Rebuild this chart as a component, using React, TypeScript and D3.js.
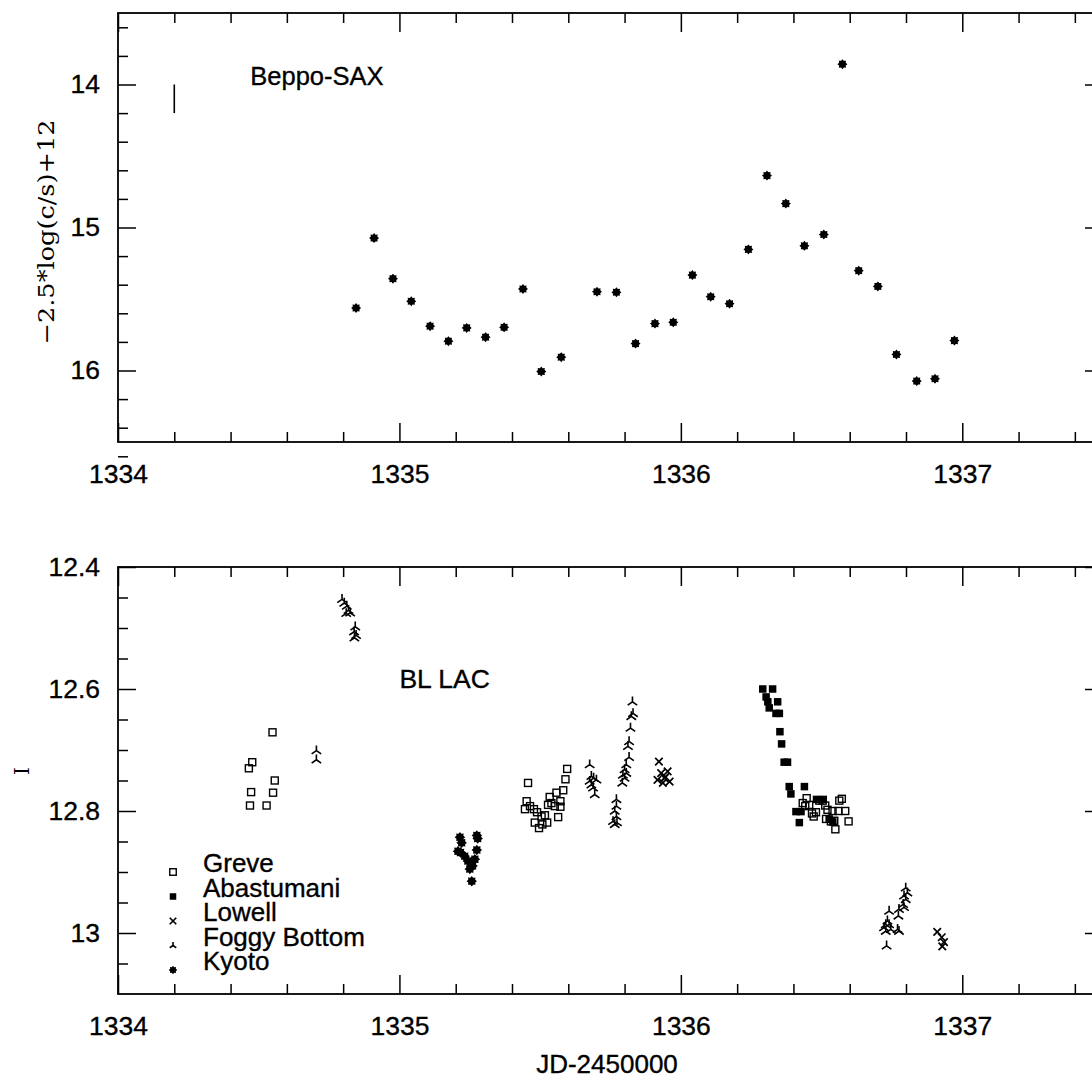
import React, { useEffect, useRef } from 'react';
import * as d3 from 'd3';

// Beppo-SAX light curve (top panel)
const saxT = [1334.846, 1334.910, 1334.977, 1335.042, 1335.109, 1335.174, 1335.239, 1335.306, 1335.372, 1335.439, 1335.504,
  1335.575, 1335.702, 1335.771, 1335.839, 1335.908, 1335.973, 1336.041, 1336.106, 1336.173, 1336.240, 1336.306,
  1336.373, 1336.439, 1336.508, 1336.574, 1336.632, 1336.700, 1336.766, 1336.838, 1336.903, 1336.972];
const saxM = [15.563, 15.074, 15.358, 15.516, 15.690, 15.795, 15.702, 15.767, 15.698, 15.430, 16.007,
  15.907, 15.449, 15.453, 15.812, 15.672, 15.663, 15.333, 15.484, 15.533, 15.153, 14.637,
  14.833, 15.128, 15.049, 13.858, 15.302, 15.412, 15.888, 16.074, 16.058, 15.791];

// optical I band, one pair of arrays per observatory
const greveT = [1334.465, 1334.477, 1334.549, 1334.557, 1334.473, 1334.551, 1334.469, 1334.528,
  1335.457, 1335.452, 1335.446, 1335.464, 1335.478, 1335.489, 1335.481, 1335.496, 1335.505, 1335.517, 1335.525, 1335.508,
  1335.534, 1335.540, 1335.552, 1335.558, 1335.572, 1335.572, 1335.582, 1335.564, 1335.590, 1335.596, 1335.528,
  1336.447, 1336.433, 1336.442, 1336.456, 1336.466, 1336.480, 1336.492, 1336.504, 1336.513, 1336.521, 1336.516,
  1336.533, 1336.549, 1336.545, 1336.563, 1336.572, 1336.539, 1336.560, 1336.584, 1336.596, 1336.472];
const greveI = [12.730, 12.720, 12.671, 12.750, 12.769, 12.770, 12.791, 12.791,
  12.754, 12.784, 12.797, 12.792, 12.797, 12.802, 12.819, 12.828, 12.809, 12.807, 12.819, 12.822,
  12.777, 12.787, 12.792, 12.770, 12.784, 12.793, 12.766, 12.810, 12.748, 12.731, 12.790,
  12.779, 12.787, 12.792, 12.790, 12.804, 12.802, 12.783, 12.783, 12.791, 12.798, 12.813,
  12.817, 12.830, 12.816, 12.783, 12.780, 12.800, 12.800, 12.800, 12.817, 12.809];

const abasT = [1336.291, 1336.326, 1336.303, 1336.309, 1336.344, 1336.314, 1336.338, 1336.350, 1336.352, 1336.358,
  1336.367, 1336.379, 1336.385, 1336.391, 1336.439, 1336.409, 1336.427, 1336.421, 1336.482, 1336.506, 1336.527, 1336.540];
const abasI = [12.600, 12.600, 12.613, 12.621, 12.621, 12.631, 12.640, 12.640, 12.670, 12.690,
  12.720, 12.720, 12.760, 12.772, 12.760, 12.801, 12.801, 12.819, 12.781, 12.781, 12.813, 12.818];

const lowellT = [1335.922, 1335.930, 1335.942, 1335.953, 1335.936, 1335.917, 1335.960, 1335.945,
  1336.911, 1336.927, 1336.935, 1336.929];
const lowellI = [12.719, 12.738, 12.746, 12.735, 12.754, 12.749, 12.752, 12.744,
  12.998, 13.007, 13.015, 13.022];

const foggyT = [1334.705, 1334.705,
  1334.796, 1334.804, 1334.813, 1334.819, 1334.811, 1334.825, 1334.843, 1334.839, 1334.846, 1334.840,
  1335.676, 1335.682, 1335.690, 1335.676, 1335.700, 1335.688, 1335.694, 1335.682,
  1335.771, 1335.771, 1335.765, 1335.771, 1335.759, 1335.773, 1335.765,
  1335.828, 1335.830, 1335.824, 1335.821, 1335.816, 1335.812, 1335.816, 1335.806, 1335.800, 1335.794, 1335.800, 1335.792, 1335.806,
  1336.799, 1336.805, 1336.793, 1336.799, 1336.790, 1336.775, 1336.793, 1336.773, 1336.740, 1336.734, 1336.728, 1336.740,
  1336.722, 1336.746, 1336.728, 1336.770, 1336.775, 1336.731];
const foggyI = [12.701, 12.716,
  12.453, 12.459, 12.464, 12.471, 12.476, 12.475, 12.498, 12.506, 12.512, 12.516,
  12.724, 12.743, 12.746, 12.751, 12.749, 12.762, 12.773, 12.757,
  12.781, 12.792, 12.800, 12.809, 12.817, 12.819, 12.822,
  12.621, 12.640, 12.645, 12.664, 12.686, 12.694, 12.712, 12.724, 12.732, 12.741, 12.746, 12.754, 12.738,
  12.926, 12.934, 12.939, 12.945, 12.953, 12.961, 12.958, 12.972, 12.964, 12.980, 12.986, 12.986,
  12.991, 12.994, 12.997, 12.994, 12.997, 13.021];

const kyotoT = [1335.215, 1335.221, 1335.208, 1335.217, 1335.232, 1335.243, 1335.257, 1335.260, 1335.250, 1335.268,
  1335.275, 1335.278, 1335.275, 1335.257];
const kyotoI = [12.843, 12.852, 12.866, 12.868, 12.874, 12.882, 12.884, 12.890, 12.895, 12.879,
  12.840, 12.845, 12.864, 12.915];

// axes
const xMajor = [1334, 1335, 1336, 1337];
const saxMajor = [14, 15, 16];
const iMajor = [12.4, 12.6, 12.8, 13];
const legendNames = ['Greve', 'Abastumani', 'Lowell', 'Foggy Bottom', 'Kyoto'];
const legendKinds = ['open', 'filled', 'cross', 'foggy', 'star'];

const SANS = '"Liberation Sans", Arial, Helvetica, sans-serif';
const SERIF = '"DejaVu Serif", "Liberation Serif", serif';

// 8 point star like the plotting package's filled asterisk
function starPath(ro: number, ri: number) {
  const pts: string[] = [];
  for (let i = 0; i < 16; i++) {
    const r = i % 2 === 0 ? ro : ri;
    const a = (Math.PI / 8) * i - Math.PI / 2;
    pts.push((r * Math.cos(a)).toFixed(2) + ',' + (r * Math.sin(a)).toFixed(2));
  }
  return 'M' + pts.join('L') + 'Z';
}

function drawSymbol(g: any, kind: string, cx: number, cy: number, s: number) {
  if (kind === 'open') {
    g.append('rect').attr('x', cx - s / 2).attr('y', cy - s / 2).attr('width', s).attr('height', s)
      .attr('fill', 'none').attr('stroke', '#000').attr('stroke-width', 1.4);
  } else if (kind === 'filled') {
    g.append('rect').attr('x', cx - s / 2).attr('y', cy - s / 2).attr('width', s).attr('height', s)
      .attr('fill', '#000');
  } else if (kind === 'cross') {
    const h = s / 2;
    g.append('path').attr('d', `M${cx - h},${cy - h}L${cx + h},${cy + h}M${cx - h},${cy + h}L${cx + h},${cy - h}`)
      .attr('stroke', '#000').attr('stroke-width', 1.7).attr('fill', 'none');
  } else if (kind === 'foggy') {
    const h = s / 2;
    g.append('path').attr('d', `M${cx},${cy}L${cx},${cy - h * 1.1}M${cx},${cy}L${cx - h},${cy + h * 0.7}M${cx},${cy}L${cx + h},${cy + h * 0.7}`)
      .attr('stroke', '#000').attr('stroke-width', 1.6).attr('fill', 'none');
  } else {
    g.append('path').attr('d', starPath(s / 2, s / 2 * 0.72)).attr('transform', `translate(${cx},${cy})`)
      .attr('fill', '#000');
  }
}

// printed-looking text: a thin outline makes the glyphs a little heavier
function heavy(sel: any) {
  return sel.attr('fill', '#000').attr('stroke', '#000').attr('stroke-width', 0.35);
}

export default function App() {
  const ref = useRef<SVGSVGElement>(null);

  useEffect(() => {
    const width = 1092, height = 1080;
    const svg = d3.select(ref.current);
    svg.selectAll('*').remove();
    svg.append('rect').attr('width', width).attr('height', height).attr('fill', '#fff');

    const x = d3.scaleLinear().domain([1334, 1337.5]).range([118, 1103]);
    const ySax = d3.scaleLinear().domain([13.5, 16.5]).range([13, 442]);
    const yI = d3.scaleLinear().domain([12.4, 13.1]).range([567, 994]);

    const xMinor = d3.range(1, 18).map(i => 1334 + i * 0.2).filter(v => Math.abs(v - Math.round(v)) > 0.01);

    // frame with inward ticks on all four sides
    function panel(y: any, yMaj: number[], yMin: number[], yFmt: (d: any) => string) {
      const [x0, x1] = x.range();
      const [yTop, yBot] = [y.range()[0], y.range()[1]];
      const g = svg.append('g');

      const put = (axis: any, tx: number, ty: number, labels: boolean) => {
        const a = g.append('g').attr('transform', `translate(${tx},${ty})`).call(axis);
        a.select('.domain').remove();
        a.selectAll('line').attr('stroke', '#000').attr('stroke-width', 1.5);
        heavy(a.selectAll('text').attr('font-family', SANS).attr('font-size', 26.5));
        if (!labels) a.selectAll('text').remove();
        return a;
      };

      put(d3.axisBottom(x).tickValues(xMajor).tickSize(-19).tickPadding(22).tickFormat(d3.format('d')), 0, yBot, true);
      put(d3.axisBottom(x).tickValues(xMinor).tickSize(-10).tickFormat(() => ''), 0, yBot, false);
      put(d3.axisTop(x).tickValues(xMajor).tickSize(-19), 0, yTop, false);
      put(d3.axisTop(x).tickValues(xMinor).tickSize(-10), 0, yTop, false);
      put(d3.axisLeft(y).tickValues(yMaj).tickSize(-18).tickPadding(18).tickFormat(yFmt), x0, 0, true);
      put(d3.axisLeft(y).tickValues(yMin).tickSize(-10), x0, 0, false);
      put(d3.axisRight(y).tickValues(yMaj).tickSize(-18), x1, 0, false);
      put(d3.axisRight(y).tickValues(yMin).tickSize(-10), x1, 0, false);

      g.append('rect').attr('x', x0).attr('y', yTop).attr('width', x1 - x0).attr('height', yBot - yTop)
        .attr('fill', 'none').attr('stroke', '#000').attr('stroke-width', 1.8);
      return g;
    }

    /* top panel: Beppo-SAX */
    const saxMinor = d3.range(0, 16).map(i => 13.6 + i * 0.2).filter(v => Math.abs(v - Math.round(v)) > 0.01);
    panel(ySax, saxMajor, saxMinor, d => String(d));

    const gs = svg.append('g');
    saxT.forEach((t, i) => drawSymbol(gs, 'star', x(t), ySax(saxM[i]), 10));
    // typical error bar
    gs.append('line').attr('x1', x(1334.2)).attr('x2', x(1334.2)).attr('y1', ySax(14.0)).attr('y2', ySax(14.2))
      .attr('stroke', '#000').attr('stroke-width', 1.6);
    heavy(gs.append('text').attr('x', x(1334.47)).attr('y', ySax(14.0)).attr('font-family', SANS).attr('font-size', 25.5)
      .text('Beppo-SAX'));
    gs.append('text').attr('transform', `translate(54,232) rotate(-90)`).attr('text-anchor', 'middle')
      .attr('font-family', SERIF).attr('font-size', 22).attr('textLength', 225).attr('lengthAdjust', 'spacingAndGlyphs')
      .text('\u22122.5*log(c/s)+12');

    /* bottom panel: optical I */
    const iMinor = d3.range(1, 14).map(i => 12.4 + i * 0.05).filter(v => Math.abs(v * 5 - Math.round(v * 5)) > 0.01);
    panel(yI, iMajor, iMinor, d => d3.format('~g')(d));

    const gb = svg.append('g');
    greveT.forEach((t, i) => drawSymbol(gb, 'open', x(t), yI(greveI[i]), 7));
    abasT.forEach((t, i) => drawSymbol(gb, 'filled', x(t), yI(abasI[i]), 7.5));
    lowellT.forEach((t, i) => drawSymbol(gb, 'cross', x(t), yI(lowellI[i]), 7.5));
    foggyT.forEach((t, i) => drawSymbol(gb, 'foggy', x(t), yI(foggyI[i]), 9.5));
    kyotoT.forEach((t, i) => drawSymbol(gb, 'star', x(t), yI(kyotoI[i]), 10.5));

    heavy(gb.append('text').attr('x', x(1335.0)).attr('y', 688).attr('font-family', SANS).attr('font-size', 26.5).text('BL LAC'));

    // legend
    legendNames.forEach((name, i) => {
      const ly = 872 + i * 24.5;
      drawSymbol(gb, legendKinds[i], 173, ly, legendKinds[i] === 'star' ? 8.5 : 6.5);
      heavy(gb.append('text').attr('x', 203).attr('y', ly).attr('font-family', SANS).attr('font-size', 26).text(name));
    });

    gb.append('text').attr('transform', `translate(29,771) rotate(-90)`).attr('text-anchor', 'middle')
      .attr('font-family', SERIF).attr('font-size', 20).text('I');
    heavy(gb.append('text').attr('x', 607).attr('y', 1073).attr('text-anchor', 'middle')
      .attr('font-family', SANS).attr('font-size', 26).text('JD-2450000'));
  }, []);

  return (
    <svg ref={ref} width={1092} height={1080} style={{ position: 'absolute', left: 0, top: 0 }} />
  );
}
